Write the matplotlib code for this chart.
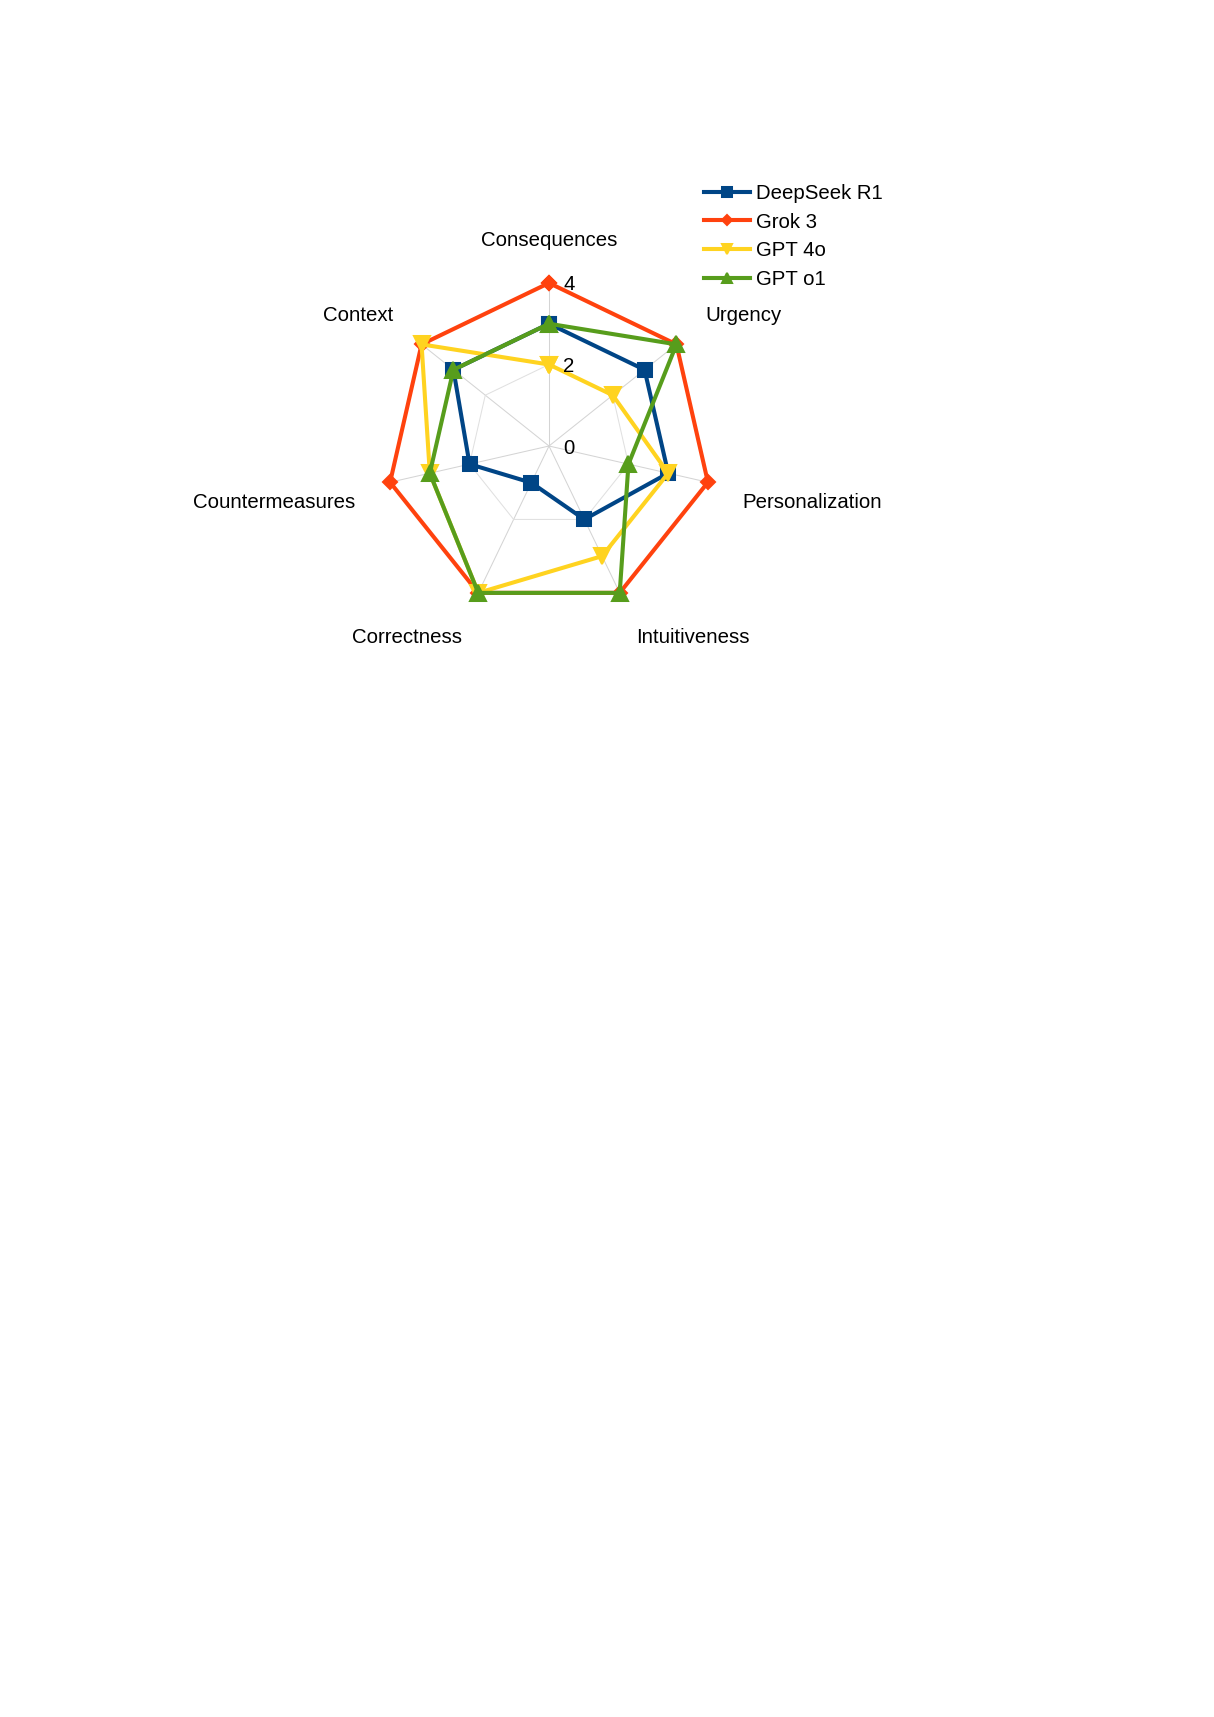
import numpy as np
import matplotlib
matplotlib.use("Agg")
import matplotlib.pyplot as plt

plt.rcParams['font.family'] = ['Liberation Sans', 'DejaVu Sans']

categories = ['Consequences', 'Urgency', 'Personalization', 'Intuitiveness',
              'Correctness', 'Countermeasures', 'Context']
deepseek = [3, 3, 3, 2, 1, 2, 3]
grok = [4, 4, 4, 4, 4, 4, 4]
gpt4o = [2, 2, 3, 3, 4, 3, 4]
gpto1 = [3, 4, 2, 4, 4, 3, 3]
series_names = ['DeepSeek R1', 'Grok 3', 'GPT 4o', 'GPT o1']
ticks = [0, 2, 4]

colors = ['#004586', '#ff420e', '#ffd320', '#579d1c']
markers = ['s', 'D', 'v', '^']
msizes = [7, 5, 7.5, 7.5]

W, H, DPI = 1214, 1717, 147
fig = plt.figure(figsize=(W / DPI, H / DPI), dpi=DPI)

cx, cy, R = 549, 446, 163
ax = fig.add_axes([(cx - R) / W, (H - cy - R) / H, 2 * R / W, 2 * R / H], polar=True)
ax.set_theta_zero_location('N')
ax.set_theta_direction(-1)
ax.set_ylim(0, 4)
ax.grid(False)
ax.set_xticks([])
ax.set_yticks([])
ax.spines['polar'].set_visible(False)
ax.patch.set_visible(False)

n = len(categories)
theta = np.arange(n) * 2 * np.pi / n
theta_c = np.append(theta, theta[0])

# grid: spokes and heptagons
for t in theta:
    ax.plot([t, t], [0, 4], color='#d4d4d4', lw=0.5, zorder=1, clip_on=False)
for lev in ticks[1:]:
    ax.plot(theta_c, [lev] * (n + 1), color='#e0e0e0', lw=0.5, zorder=1, clip_on=False)

for vals, name, c, m, ms in zip([deepseek, grok, gpt4o, gpto1], series_names, colors, markers, msizes):
    v = np.append(vals, vals[0])
    ax.plot(theta_c, v, color=c, lw=2.0, marker=m, markersize=ms, label=name,
            zorder=3, clip_on=False)

# radial tick labels
for tk in ticks:
    ax.annotate(str(tk), xy=(0, tk), xytext=(7, 0), textcoords='offset points',
                ha='left', va='center_baseline', fontsize=10)

# category labels
offsets = [(0, 22), (14, 15), (17, -9), (8, -21), (-8, -21), (-17, -9), (-14, 15)]
aligns = ['center', 'left', 'left', 'left', 'right', 'right', 'right']
for t, lab, off, ha in zip(theta, categories, offsets, aligns):
    ax.annotate(lab, xy=(t, 4), xytext=off, textcoords='offset points',
                ha=ha, va='center_baseline', fontsize=10)

fig.legend(loc='upper left', bbox_to_anchor=(704 / W, 1 - 184 / H), frameon=False,
           fontsize=10, handlelength=2.25, handletextpad=0.3, labelspacing=0.47,
           markerscale=0.7, borderpad=0, borderaxespad=0)

fig.savefig('out.png', dpi=DPI)
